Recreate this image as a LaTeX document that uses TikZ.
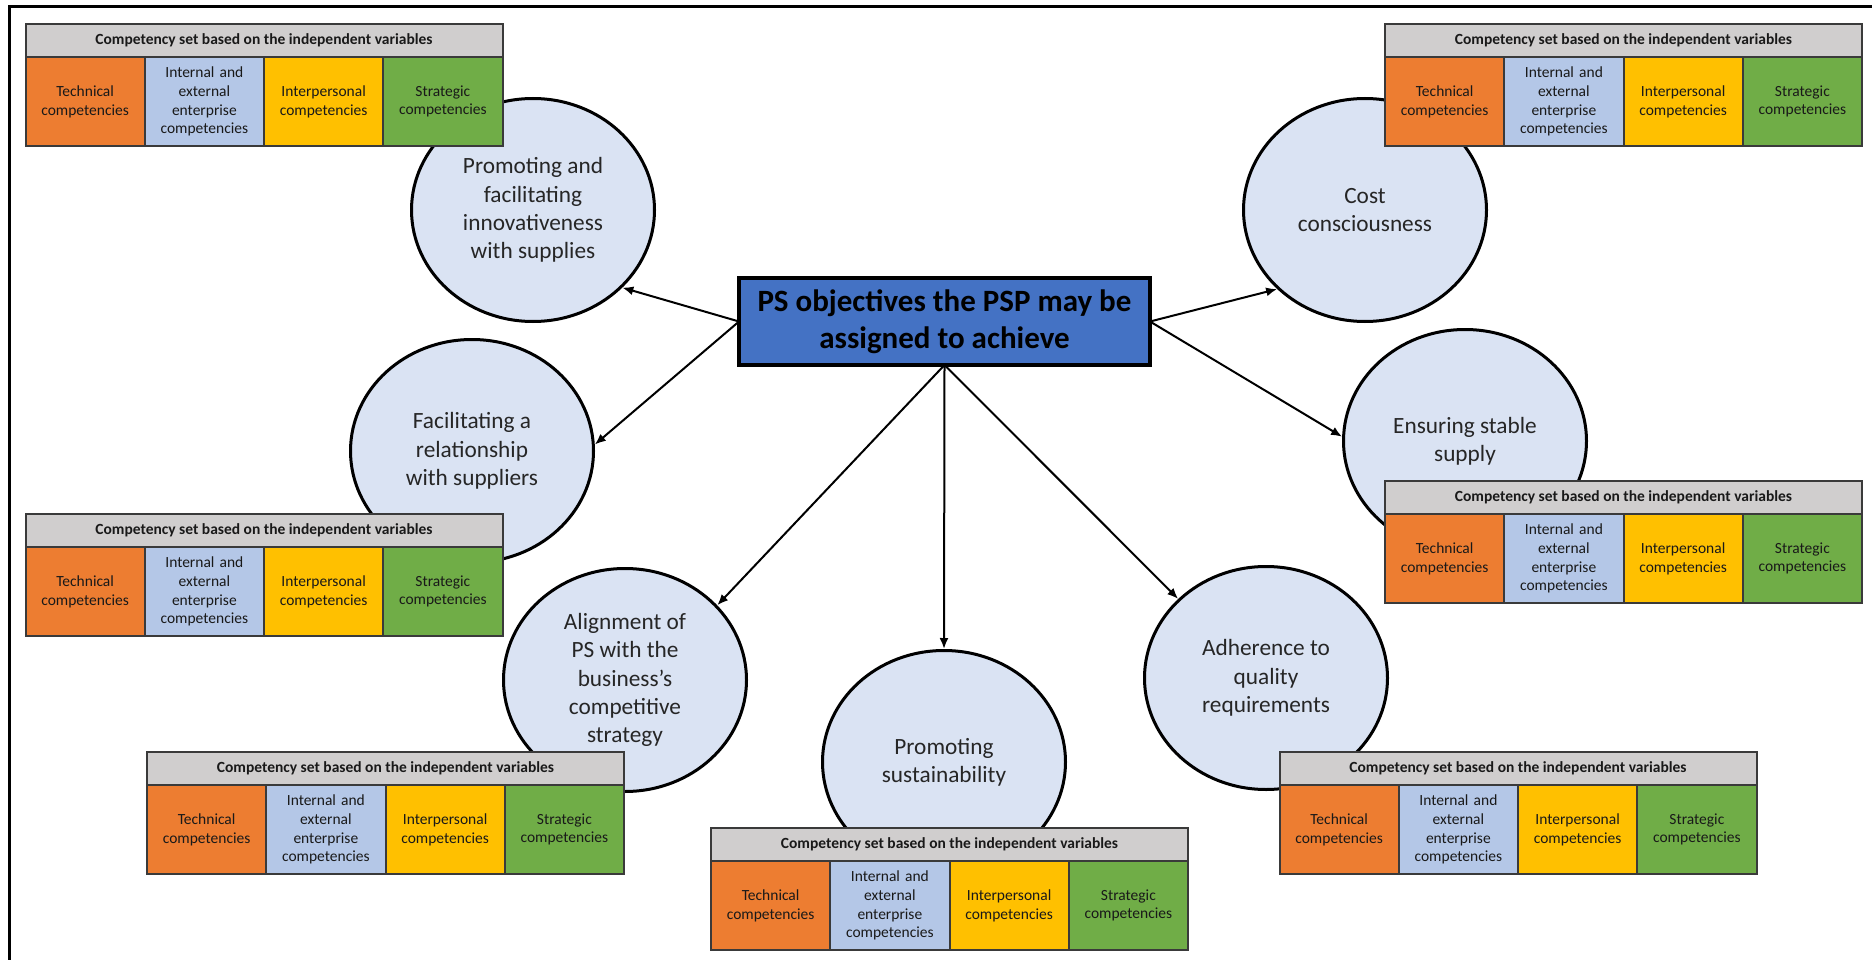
\documentclass[tikz,border=0pt]{standalone}
\usepackage{fontspec}
\setmainfont{Carlito}
\usetikzlibrary{shapes.geometric,arrows.meta}

\definecolor{objfill}{HTML}{DAE3F3}
\definecolor{psfill}{HTML}{4472C4}
\definecolor{hdrfill}{HTML}{D0CECE}
\definecolor{corange}{HTML}{ED7D31}
\definecolor{cblue}{HTML}{B4C7E7}
\definecolor{cyellow}{HTML}{FFC000}
\definecolor{cgreen}{HTML}{70AD47}
\definecolor{gridline}{HTML}{3A3A3A}

\tikzset{
  objective/.style={ellipse, draw=black, line width=3pt, fill=objfill,
    minimum width=243pt, minimum height=223pt, inner sep=0pt, align=center,
    text=black!85, font=\fontsize{23.3}{28.3}\selectfont},
  psbox/.style={rectangle, draw=black, line width=4pt, fill=psfill,
    minimum width=411pt, minimum height=87pt, inner sep=0pt, outer sep=0pt,
    align=center, font=\fontsize{31}{37}\selectfont\bfseries},
  arr/.style={line width=2pt, -{Latex[length=11pt,width=9pt]}},
  hdr/.style={rectangle, draw=gridline, line width=2pt, fill=hdrfill,
    minimum width=477pt, minimum height=33pt, inner sep=0pt, outer sep=0pt,
    font=\fontsize{15.5}{18}\selectfont\bfseries, text=black!90},
  cell/.style={rectangle, draw=gridline, line width=2pt,
    minimum width=119.25pt, minimum height=89pt, inner sep=0pt, outer sep=0pt,
    text width=112pt, align=center,
    font=\fontsize{15.5}{18.8}\selectfont, text=black!90},
}

% A competency table: name, x and y of its top-left corner
\newcommand\comptable[3]{%
  \node[hdr, anchor=north west] (#1-h) at (#2,#3)
    {Competency set based on the independent variables};
  \node[cell, fill=corange, anchor=north west] (#1-t) at (#1-h.south west)
    {Technical\\competencies};
  \node[cell, fill=cblue, anchor=north west] (#1-e) at (#1-t.north east)
    {Internal and\\external\\enterprise\\competencies};
  \node[cell, fill=cyellow, anchor=north west] (#1-i) at (#1-e.north east)
    {Interpersonal\\competencies};
  \node[cell, fill=cgreen, anchor=north west] (#1-s) at (#1-i.north east)
    {Strategic\\competencies};
}

\begin{document}
\begin{tikzpicture}[x=1pt, y=-1pt]
  \useasboundingbox (0,0) rectangle (1872,960);
  \fill[white] (0,0) rectangle (1872,960);

  % outer frame
  \draw[line width=3pt] (9,960) -- (9,7) -- (1872,7);

  % objectives
  \node[objective] (innov) at (533,210) {Promoting and\\facilitating\\innovativeness\\with supplies};
  \node[objective] (cost)  at (1365,210) {Cost\\consciousness};
  \node[objective] (fac)   at (472,451) {Facilitating a\\relationship\\with suppliers};
  \node[objective] (ens)   at (1465,441) {Ensuring stable\\supply};
  \node[objective] (align) at (625,680) {Alignment of\\PS with the\\business’s\\competitive\\strategy};
  \node[objective] (sus)   at (944,762) {Promoting\\sustainability};
  \node[objective] (adh)   at (1266,678) {Adherence to\\quality\\requirements};

  % central objective box
  \node[psbox] (ps) at (944.5,321.5) {PS objectives the PSP may be\\assigned to achieve};

  % connectors
  \draw[arr] (ps.west)  -- (innov.-41);
  \draw[arr] (ps.west)  -- (fac.3);
  \draw[arr] (ps.east)  -- (cost.-138);
  \draw[arr] (ps.east)  -- (ens.178);
  \draw[arr] (ps.south) -- (align.39);
  \draw[arr] (ps.south) -- (sus.north);
  \draw[arr] (ps.south) -- (adh.138);

  % competency tables
  \comptable{tl}{25.5}{24}
  \comptable{tr}{1385}{24}
  \comptable{ml}{25.5}{514}
  \comptable{mr}{1385}{481}
  \comptable{bl}{147}{752}
  \comptable{bc}{711}{828}
  \comptable{br}{1279.5}{752}
\end{tikzpicture}
\end{document}
